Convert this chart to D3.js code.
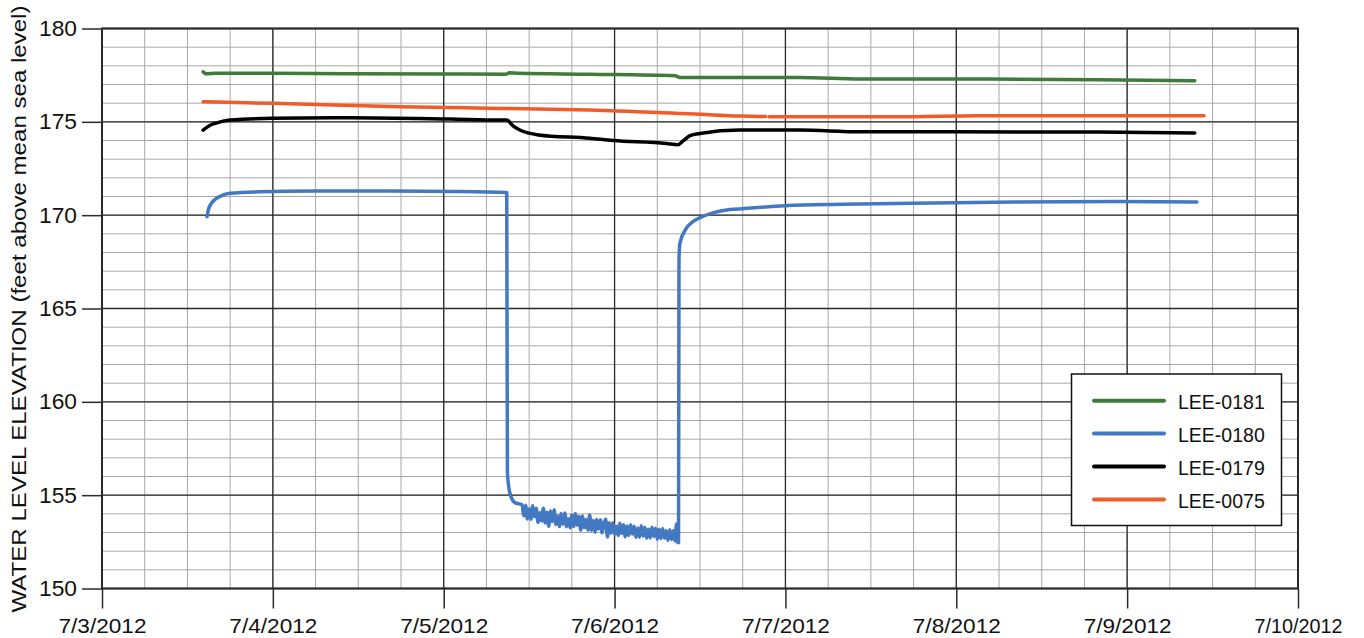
<!DOCTYPE html>
<html><head><meta charset="utf-8">
<script src="https://cdn.jsdelivr.net/npm/d3@7"></script>
<style>body{margin:0;background:#fff}svg{display:block}text{font-family:Arial,"Liberation Sans",sans-serif;fill:#111}</style>
</head><body><svg id="c" width="1364" height="638"></svg>
<script>
// ---- data (hours since 7/3/2012 00:00, water level in feet) ----
const seriesNames = ["LEE-0181", "LEE-0180", "LEE-0179", "LEE-0075"];
const seriesColors = ["#3f7b3a", "#4279c2", "#000000", "#f15a29"];

const lee0181Hours  = [14.2, 14.6, 16, 24, 35, 48.9, 56.8, 57.2, 58.5, 68.5, 80.5, 80.8, 81.1, 98, 106.5, 123, 140, 153.5];
const lee0181Levels = [177.68, 177.57, 177.6, 177.6, 177.58, 177.56, 177.55, 177.63, 177.6, 177.55, 177.47, 177.44, 177.38, 177.38, 177.3, 177.29, 177.26, 177.2];

const lee0180Hours = [14.75, 14.95, 15.4, 15.9, 17, 18, 22, 30, 40, 50, 56.85, 56.95, 57.3, 58.0,
  59.00, 59.25, 59.50, 59.75, 60.00, 60.25, 60.50, 60.75, 61.00, 61.25, 61.50, 61.75,
  62.00, 62.25, 62.50, 62.75, 63.00, 63.25, 63.50, 63.75, 64.00, 64.25, 64.50, 64.75,
  65.00, 65.25, 65.50, 65.75, 66.00, 66.25, 66.50, 66.75, 67.00, 67.25, 67.50, 67.75,
  68.00, 68.25, 68.50, 68.75, 69.00, 69.25, 69.50, 69.75, 70.00, 70.25, 70.50, 70.75,
  71.00, 71.25, 71.50, 71.75, 72.00, 72.25, 72.50, 72.75, 73.00, 73.25, 73.50, 73.75,
  74.00, 74.25, 74.50, 74.75, 75.00, 75.25, 75.50, 75.75, 76.00, 76.25, 76.50, 76.75,
  77.00, 77.25, 77.50, 77.75, 78.00, 78.25, 78.50, 78.75, 79.00, 79.25, 79.50, 79.75,
  80.00, 80.25, 80.50, 80.70, 80.85, 80.98,
  81.05, 81.19, 82.0, 83.0, 84.1, 85.8, 88.2, 90, 95.9, 104, 113.8, 128.3, 142.9, 153.8];
const lee0180Levels = [169.92, 170.3, 170.65, 170.85, 171.08, 171.17, 171.25, 171.29, 171.29, 171.27, 171.22, 156.2, 155.1, 154.6,
  154.49, 153.89, 154.46, 153.72, 154.27, 153.71, 154.43, 153.85, 154.30, 153.53, 154.06, 153.62,
  154.30, 153.51, 154.08, 153.34, 154.15, 153.59, 154.22, 153.43, 153.89, 153.32, 154.02, 153.45,
  154.05, 153.31, 153.73, 153.25, 153.94, 153.32, 154.02, 153.39, 153.86, 153.13, 153.89, 153.26,
  153.69, 153.13, 153.94, 153.12, 153.66, 153.02, 153.70, 153.19, 153.68, 152.99, 153.48, 153.71,
  152.76, 153.52, 152.97, 153.52, 152.90, 153.34, 152.84, 153.50, 152.95, 153.42, 152.77, 153.35,
  152.84, 153.41, 152.92, 153.33, 152.74, 153.24, 152.75, 153.36, 152.81, 153.28, 152.70, 153.17,
  152.71, 153.28, 152.79, 153.23, 152.64, 153.17, 152.68, 153.22, 152.70, 153.10, 152.58, 153.15,
  152.62, 153.09, 152.54, 153.45, 152.50, 152.45,
  167.6, 168.5, 169.25, 169.65, 169.88, 170.12, 170.3, 170.35, 170.5, 170.58, 170.64, 170.7, 170.73, 170.7];

const lee0179Hours  = [14.2, 15.0, 15.9, 18, 24, 34.8, 48.9, 55.9, 56.85, 57.73, 58.7, 61.3, 68.5, 71.8, 79.3, 80.9, 81.66, 82.6, 84, 89.6, 98, 106.5, 118, 140, 153.5];
const lee0179Levels = [174.56, 174.78, 174.92, 175.1, 175.19, 175.22, 175.15, 175.1, 175.1, 174.78, 174.56, 174.3, 174.12, 174.0, 173.84, 173.77, 173.99, 174.26, 174.38, 174.56, 174.56, 174.47, 174.47, 174.45, 174.4];

const lee0075Hours  = [14.2, 24, 41.9, 55.9, 68.5, 71.5, 84, 89.6, 93.2, 93.45, 93.7, 112, 123, 140, 154.8];
const lee0075Levels = [176.08, 175.99, 175.81, 175.72, 175.63, 175.6, 175.4, 175.31, 175.28, null, 175.27, 175.27, 175.33, 175.33, 175.33];

const yTickValues = [150, 155, 160, 165, 170, 175, 180];
const xTickFormat = "%-m/%-d/%Y";
const yTitle = "WATER LEVEL ELEVATION (feet above mean sea level)";

// ---- build ----
const start = new Date(2012, 6, 3);
const end = new Date(2012, 6, 10);
const toDate = h => d3.timeMinute.offset(start, Math.round(h * 60));
const series = [
  {hours: lee0181Hours, levels: lee0181Levels},
  {hours: lee0180Hours, levels: lee0180Levels},
  {hours: lee0179Hours, levels: lee0179Levels},
  {hours: lee0075Hours, levels: lee0075Levels}
].map((s, i) => ({name: seriesNames[i], color: seriesColors[i],
  pts: s.hours.map((h, j) => ({t: toDate(h), v: s.levels[j]}))}));

const L = 102, R = 1298, T = 28.5, B = 588.5;
const svg = d3.select("#c");
const x = d3.scaleTime().domain([start, end]).range([L, R]);
const y = d3.scaleLinear().domain([150, 180]).range([B, T]);

// minor grid
const g = svg.append("g");
g.selectAll(".mx").data(d3.timeHour.every(6).range(start, end)).join("line")
  .attr("x1", d => x(d)).attr("x2", d => x(d)).attr("y1", T).attr("y2", B)
  .attr("stroke", "#a8a8a8").attr("stroke-width", 1);
g.selectAll(".my").data(d3.range(151, 180, 1)).join("line")
  .attr("x1", L).attr("x2", R).attr("y1", d => y(d)).attr("y2", d => y(d))
  .attr("stroke", "#a8a8a8").attr("stroke-width", 1);
// major grid
g.selectAll(".Mx").data(d3.timeDay.range(start, end)).join("line")
  .attr("x1", d => x(d)).attr("x2", d => x(d)).attr("y1", T).attr("y2", B)
  .attr("stroke", "#2a2a2a").attr("stroke-width", 1.3);
g.selectAll(".My").data(yTickValues).join("line")
  .attr("x1", L).attr("x2", R).attr("y1", d => y(d)).attr("y2", d => y(d))
  .attr("stroke", "#2a2a2a").attr("stroke-width", 1.3);

// series
const line = d3.line().defined(d => d.v != null).x(d => x(d.t)).y(d => y(d.v)).curve(d3.curveMonotoneX);
series.forEach(s => {
  svg.append("path").datum(s.pts).attr("d", line).attr("fill", "none")
    .attr("stroke", s.color).attr("stroke-width", 3.5)
    .attr("stroke-linejoin", "round").attr("stroke-linecap", "round");
});

// frame
svg.append("rect").attr("x", L).attr("y", T).attr("width", R - L).attr("height", B - T)
  .attr("fill", "none").attr("stroke", "#2a2a2a").attr("stroke-width", 2);

// axes
const ya = svg.append("g").attr("transform", `translate(${L},0)`)
  .call(d3.axisLeft(y).tickValues(yTickValues).tickSize(20).tickPadding(5));
ya.select(".domain").remove();
ya.selectAll("line").attr("stroke", "#2a2a2a").attr("stroke-width", 1.5);
ya.selectAll("text").style("font-size", "22px").attr("fill", "#111")
  .attr("textLength", 38).attr("lengthAdjust", "spacingAndGlyphs");

const xa = svg.append("g").attr("transform", `translate(0,${B})`)
  .call(d3.axisBottom(x).ticks(d3.timeDay.every(1)).tickFormat(d3.timeFormat(xTickFormat)).tickSize(20).tickPadding(9.5));
xa.select(".domain").remove();
xa.selectAll("line").attr("stroke", "#2a2a2a").attr("stroke-width", 1.5);
xa.selectAll("text").style("font-size", "21px").attr("fill", "#111")
  .attr("textLength", 88).attr("lengthAdjust", "spacingAndGlyphs");

// y title
svg.append("text").attr("transform", "translate(26,309) rotate(-90)")
  .attr("text-anchor", "middle").style("font-size", "21px")
  .attr("textLength", 607).attr("lengthAdjust", "spacingAndGlyphs").text(yTitle);

// legend
const lg = svg.append("g");
lg.append("rect").attr("x", 1071.5).attr("y", 374).attr("width", 210).attr("height", 151.5)
  .attr("fill", "#fff").attr("stroke", "#111").attr("stroke-width", 1.5);
series.forEach((s, i) => {
  const cy = 400.7 + i * 32.9;
  lg.append("line").attr("x1", 1094).attr("x2", 1164).attr("y1", cy).attr("y2", cy)
    .attr("stroke", s.color).attr("stroke-width", 4).attr("stroke-linecap", "round");
  lg.append("text").attr("x", 1178).attr("y", cy + 8.5).style("font-size", "19.5px").text(s.name);
});
</script></body></html>
